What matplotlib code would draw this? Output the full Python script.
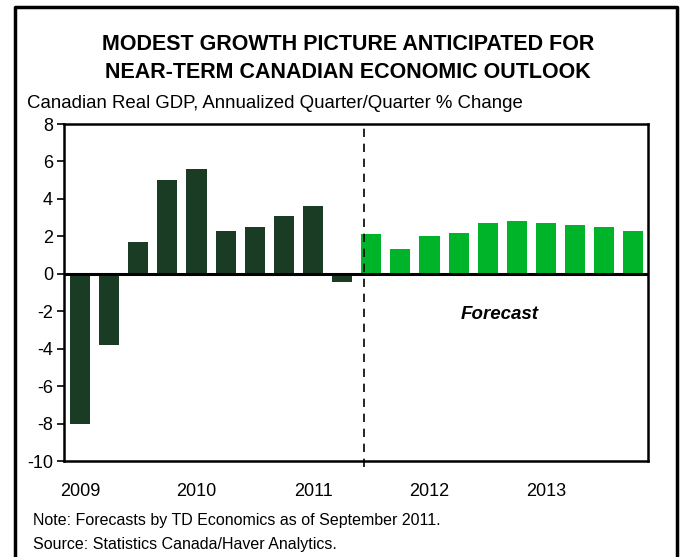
import matplotlib.pyplot as plt
import numpy as np

plt.rcParams['font.family'] = ['Liberation Sans', 'DejaVu Sans']
plt.rcParams['axes.unicode_minus'] = False

# quarterly real GDP growth, 2009Q1 - 2013Q4
actual = [-8.0, -3.8, 1.7, 5.0, 5.6, 2.3, 2.5, 3.1, 3.6, -0.45]
forecast = [2.1, 1.3, 2.0, 2.2, 2.7, 2.8, 2.7, 2.6, 2.5, 2.3]
years = ['2009', '2010', '2011', '2012', '2013']

n_act = len(actual)
x_act = np.arange(n_act)
x_fc = np.arange(n_act, n_act + len(forecast))

fig = plt.figure(figsize=(6.81, 5.57), dpi=100)
ax = fig.add_axes([64/681, 1-461/557, (648-64)/681, (461-124)/557])

ax.bar(x_act, actual, width=0.69, color='#1a3c24', zorder=2)
ax.bar(x_fc, forecast, width=0.69, color='#00b42a', zorder=2)
ax.axhline(0, color='black', lw=2.2, zorder=3)

# forecast divider, runs a little below the axis
ax.plot([n_act - 0.26, n_act - 0.26], [-10.3, 8], color='black', lw=1.2,
        ls=(0, (5, 4)), zorder=4, clip_on=False)
ax.text(14.4, -2.2, 'Forecast', fontsize=13.5, fontweight='bold',
        fontstyle='italic', ha='center', va='center')

ax.set_xlim(-0.55, 19.5)
ax.set_ylim(-10, 8)
ax.set_yticks(np.arange(-10, 9, 2))
ax.tick_params(axis='y', direction='out', length=5, width=1.2, labelsize=13, pad=3)
ax.set_xticks(np.arange(0, 20, 4))
ax.set_xticklabels(years)
ax.tick_params(axis='x', length=0, labelsize=13, pad=16)
for s in ax.spines.values():
    s.set_linewidth(1.8)

fig.text(348/681, 1-45/557, 'MODEST GROWTH PICTURE ANTICIPATED FOR',
         fontsize=15.5, fontweight='bold', ha='center', va='center')
fig.text(348/681, 1-72/557, 'NEAR-TERM CANADIAN ECONOMIC OUTLOOK',
         fontsize=15.5, fontweight='bold', ha='center', va='center')
fig.text(27/681, 1-103/557, 'Canadian Real GDP, Annualized Quarter/Quarter % Change',
         fontsize=13.4, ha='left', va='center')
fig.text(33/681, 1-520/557, 'Note: Forecasts by TD Economics as of September 2011.',
         fontsize=11.5, ha='left', va='center')
fig.text(33/681, 1-544/557, 'Source: Statistics Canada/Haver Analytics.',
         fontsize=11.5, ha='left', va='center')

# outer frame, open at the bottom
frame_x = [15/681, 15/681, 677/681, 677/681]
frame_y = [-0.01, 1-7/557, 1-7/557, -0.01]
fig.add_artist(plt.Line2D(frame_x, frame_y, color='black', lw=2.5,
                          transform=fig.transFigure))

fig.savefig('out.png', dpi=100)
